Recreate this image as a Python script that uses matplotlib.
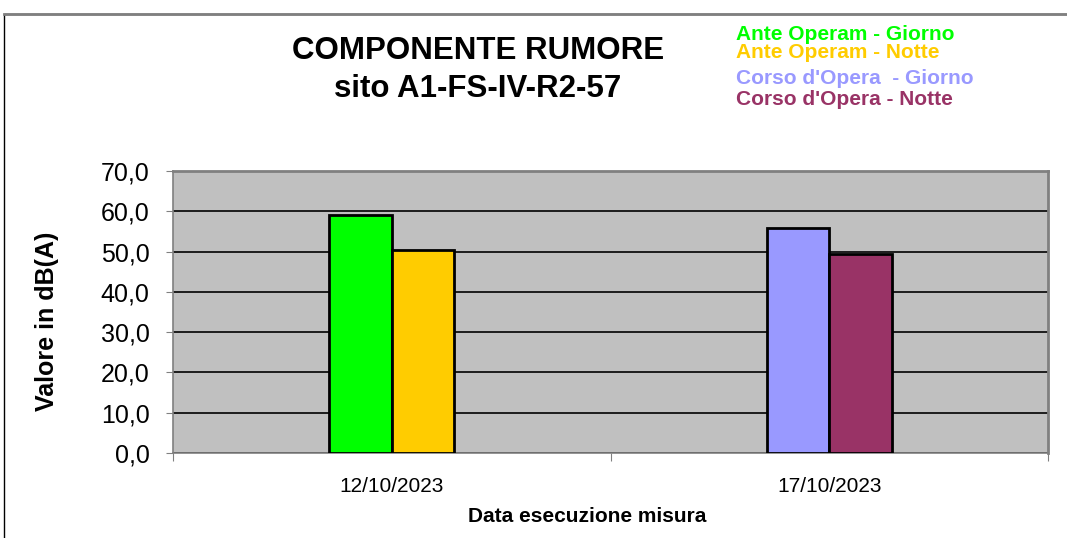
import matplotlib
matplotlib.use("Agg")
import matplotlib.pyplot as plt
from matplotlib.patches import Rectangle
from matplotlib.ticker import FuncFormatter

plt.rcParams['font.family'] = ['Liberation Sans', 'DejaVu Sans']

categories = ["12/10/2023", "17/10/2023"]
series_names = ["Ante Operam - Giorno", "Ante Operam - Notte",
                "Corso d'Opera  - Giorno", "Corso d'Opera - Notte"]
series_colors = ["#00FF00", "#FFCC00", "#9999FF", "#993366"]
# (category index, offset side, value)
bar_category = [0, 0, 1, 1]
bar_side = [-1, 1, -1, 1]
bar_values = [59.0, 50.4, 55.9, 49.4]
yticks = [0, 10, 20, 30, 40, 50, 60, 70]

fig = plt.figure(figsize=(10.67, 5.38), dpi=100)
W, H = 1067, 538
ax = fig.add_axes([173 / W, 1 - 453 / H, (1048 - 173) / W, (453 - 171) / H])

# outer chart border
fig.patches.append(Rectangle((4 / W, -0.1), 1.2, 1 - 14 / H + 0.1, transform=fig.transFigure,
                             fill=False, edgecolor="#000000", linewidth=1.0))
fig.add_artist(plt.Line2D([4 / W, 1], [1 - 14 / H, 1 - 14 / H], transform=fig.transFigure,
                          color="#808080", linewidth=2.0))

ax.set_facecolor("#C0C0C0")
bw = 0.143
for c, s, v, col in zip(bar_category, bar_side, bar_values, series_colors):
    ax.bar(c + s * bw / 2, v, width=bw, color=col, edgecolor="black", linewidth=2, zorder=3)

ax.set_xlim(-0.5, 1.5)
ax.set_ylim(0, 70)
ax.set_yticks(yticks)
ax.yaxis.set_major_formatter(FuncFormatter(lambda v, p: f"{v:.1f}".replace(".", ",")))
ax.yaxis.grid(True, color="#000000", linewidth=1.2, zorder=1)
ax.set_axisbelow(True)
ax.tick_params(axis="y", labelsize=18, length=5, color="#808080", pad=12)

ax.set_xticks([-0.5, 0.5, 1.5])
ax.set_xticklabels([])
ax.set_xticks([0, 1], minor=True)
ax.set_xticklabels(categories, minor=True, fontsize=15)
ax.tick_params(axis="x", which="major", length=6, color="#808080")
ax.tick_params(axis="x", which="minor", length=0, pad=17)

for sp in ["top", "right"]:
    ax.spines[sp].set_color("#808080")
    ax.spines[sp].set_linewidth(2)
for sp in ["left", "bottom"]:
    ax.spines[sp].set_color("#808080")
    ax.spines[sp].set_linewidth(1.2)

fig.text(47 / W, 1 - 321 / H, "Valore in dB(A)", rotation=90, ha="center", va="center",
         fontsize=18, fontweight="bold")
fig.text(587 / W, 1 - 517 / H, "Data esecuzione misura", ha="center", va="center",
         fontsize=15, fontweight="bold")

fig.text(478 / W, 1 - 51 / H, "COMPONENTE RUMORE", ha="center", va="center",
         fontsize=22.5, fontweight="bold")
fig.text(478 / W, 1 - 89 / H, "sito A1-FS-IV-R2-57", ha="center", va="center",
         fontsize=22.5, fontweight="bold")

leg_y = [35, 53, 78, 100]
for name, col, y in zip(series_names, series_colors, leg_y):
    fig.text(736 / W, 1 - y / H, name, ha="left", va="center", fontsize=15,
             fontweight="bold", color=col)

fig.savefig("out.png", dpi=100)
